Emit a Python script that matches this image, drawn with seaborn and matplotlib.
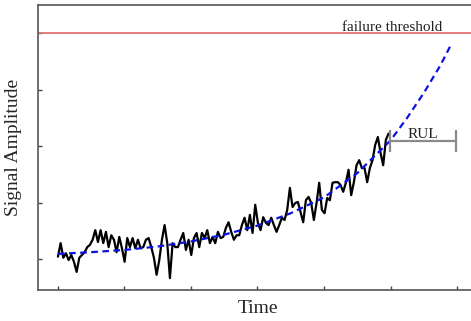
import matplotlib
matplotlib.use('Agg')

import numpy as np
import pandas as pd
import matplotlib.pyplot as plt
import seaborn as sns

# -----------------------------
# DATA
# -----------------------------
signal_values = [
    1.04, 1.28, 1.02, 1.10, 0.98, 1.07, 0.95, 0.77, 1.02, 1.07, 1.12, 1.21, 1.25,
    1.34, 1.51, 1.30, 1.51, 1.28, 1.48, 1.21, 1.42, 1.34, 1.12, 1.39, 1.19, 0.95,
    1.37, 1.21, 1.37, 1.19, 1.34, 1.19, 1.21,
    1.34, 1.37, 1.21, 1.02, 0.72, 0.98, 1.34, 1.60, 1.28, 0.66, 1.28, 1.21, 1.21,
    1.34, 1.46, 1.16, 1.34, 1.07, 1.37, 1.46, 1.21, 1.46, 1.37, 1.51, 1.28, 1.39,
    1.28, 1.48, 1.37, 1.39, 1.55, 1.65,
    1.48, 1.34, 1.42, 1.42, 1.60, 1.73, 1.51, 1.78, 1.46, 1.96, 1.64, 1.51, 1.74,
    1.64, 1.60, 1.73, 1.60, 1.48, 1.60, 1.73, 1.69, 1.87, 2.26, 1.92, 1.99, 2.01,
    1.83, 1.65, 2.04,
    2.10, 1.99, 1.69, 1.99, 2.35, 1.87, 1.81, 2.08, 2.04, 2.35, 2.36, 2.36, 2.31,
    2.19, 2.35, 2.58, 2.13, 2.36, 2.66, 2.75, 2.61, 2.61, 2.36, 2.61, 2.75, 3.02,
    3.16, 2.88, 2.66, 3.11, 3.22,
]
signal_end = 4.97  # time of last measurement

fit_time = [0, 0.5, 1.0, 1.5, 2.0, 2.5, 3.0, 3.5, 4.0, 4.5, 5.0, 5.25, 5.5, 5.75, 5.92]
fit_values = [1.09, 1.12, 1.16, 1.22, 1.31, 1.43, 1.59, 1.81, 2.09, 2.52, 3.10,
              3.50, 3.94, 4.43, 4.82]

threshold = 5.0
rul_start = 4.99
rul_end = 5.98

signal = pd.DataFrame({
    "Time": np.linspace(0, signal_end, len(signal_values)),
    "Amplitude": signal_values,
})
fit = pd.DataFrame({"Time": fit_time, "Amplitude": fit_values})

# -----------------------------
# PLOT
# -----------------------------
sns.set_style("ticks")
plt.rcParams['font.family'] = ['Liberation Serif', 'DejaVu Serif']

fig = plt.figure(figsize=(4.71, 3.21), dpi=100)
ax = fig.add_axes([0.0807, 0.0966, 0.932, 0.888])

sns.lineplot(data=signal, x="Time", y="Amplitude", ax=ax, color="black",
             linewidth=1.6, estimator=None, sort=False)
sns.lineplot(data=fit, x="Time", y="Amplitude", ax=ax, color="#0a14e0",
             linewidth=1.6, linestyle=(0, (3, 2)), estimator=None, sort=False)

ax.axhline(threshold, color="#e07272", linewidth=1.3)
ax.text(5.03, threshold + 0.035, "failure threshold", fontsize=11,
        ha="center", va="baseline", color="#222222")

# RUL bracket
rul_y = 3.09
ax.plot([rul_start, rul_end], [rul_y, rul_y], color="#8a8a8a", linewidth=1.6)
ax.vlines([rul_start, rul_end], rul_y - 0.2, rul_y + 0.19, color="#8a8a8a",
          linewidth=1.6)
ax.text((rul_start + rul_end) / 2, rul_y + 0.06, "RUL", fontsize=11,
        ha="center", va="baseline", color="#222222")

ax.set_xlim(-0.30, 6.30)
ax.set_ylim(0.45, 5.50)
ax.set_xticks(range(0, 7))
ax.set_yticks([1, 2, 3, 4, 5])
ax.set_xticklabels([])
ax.set_yticklabels([])
ax.tick_params(direction="in", length=3, width=1, color="#444444")

for side in ax.spines.values():
    side.set_color("#555555")
    side.set_linewidth(1.2)

ax.set_xlabel("Time", fontsize=14, labelpad=4)
ax.set_ylabel("Signal Amplitude", fontsize=14, labelpad=8)

fig.savefig("out.png", dpi=100)
plt.close(fig)
